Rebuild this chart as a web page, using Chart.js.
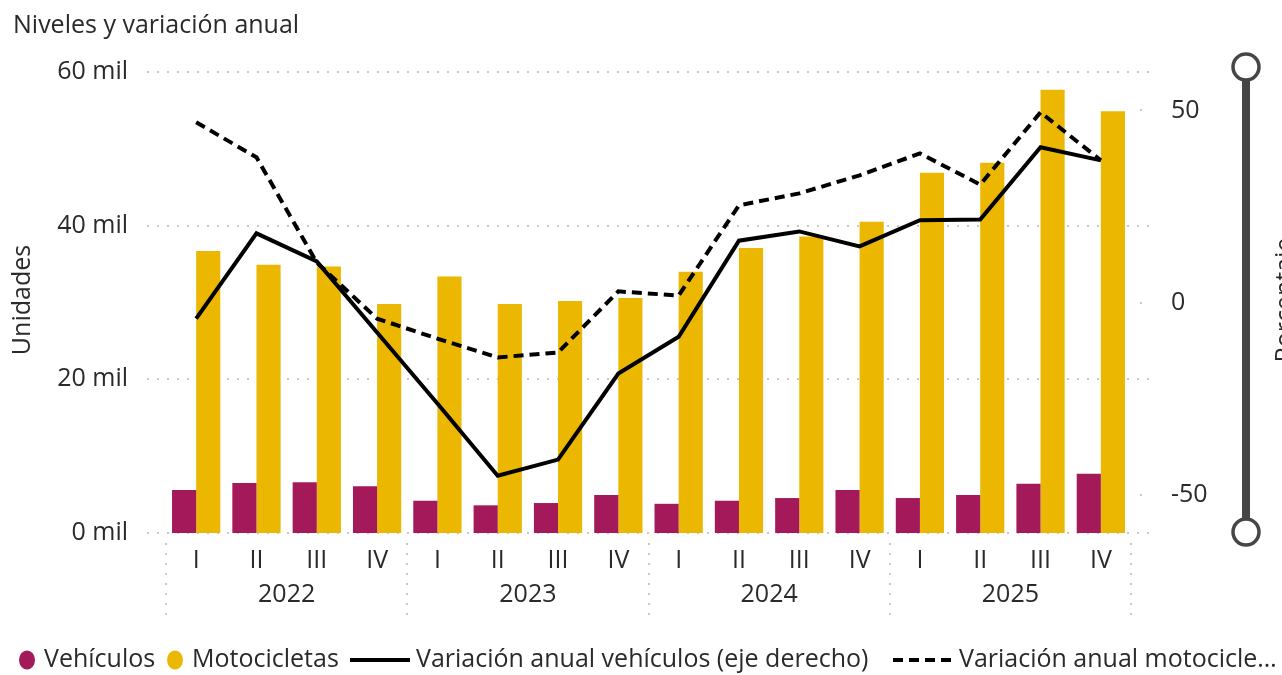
<!DOCTYPE html>
<html lang="es">
<head>
<meta charset="utf-8">
<title>Niveles y variación anual</title>
<script src="https://cdn.jsdelivr.net/npm/chart.js@4.4.1/dist/chart.umd.min.js"></script>
<style>
  html, body { margin: 0; padding: 0; background: #fff; }
  #wrap { width: 1282px; height: 675px; }
</style>
</head>
<body>
<div id="wrap"><canvas id="chart" width="1282" height="675"></canvas></div>
<script>
// data
const quarters = ["I", "II", "III", "IV", "I", "II", "III", "IV", "I", "II", "III", "IV", "I", "II", "III", "IV"];
const years = ["2022", "2023", "2024", "2025"];
const vehiculos = [5600, 6500, 6600, 6100, 4200, 3600, 3900, 4950, 3800, 4200, 4550, 5600, 4550, 4950, 6400, 7700];
const motocicletas = [36700, 34900, 34700, 29800, 33400, 29800, 30200, 30600, 34000, 37100, 38600, 40500, 46900, 48200, 57700, 54900];
const varVehiculos = [-4.2, 18.0, 10.7, -7.8, -26.3, -45.1, -40.9, -18.5, -8.9, 16.1, 18.5, 14.6, 21.4, 21.6, 40.4, 37.0];
const varMotos = [46.9, 37.8, 10.4, -4.2, -9.4, -14.3, -13.0, 2.9, 1.8, 25.3, 28.4, 33.1, 38.8, 30.7, 49.5, 37.0];
const leftTicks = [0, 20000, 40000, 60000];
const rightTicks = [-50, 0, 50];

const FONT = "'Open Sans', sans-serif";
const SIZE = 25;
const TEXT = "#2b2a29";
const GRID = "#c8c8c8";
const PURPLE = "#a4195a";
const YELLOW = "#ebb700";
const LINE_W = 4;
const DASH = [10, 6];

function seg(ctx, x0, y0, x1, y1) {
  ctx.beginPath();
  ctx.moveTo(x0, y0);
  ctx.lineTo(x1, y1);
  ctx.stroke();
}

// extra bits Chart.js doesn't do on its own: title, year groups, legend, slider
const extras = {
  id: "extras",
  beforeDatasetsDraw(chart) {
    const { ctx, chartArea: a, scales } = chart;
    ctx.save();
    ctx.strokeStyle = GRID;
    ctx.lineWidth = 2;
    ctx.setLineDash([2, 8]);
    leftTicks.forEach(v => {
      const py = Math.round(scales.y.getPixelForValue(v));
      seg(ctx, a.left - 19, py, a.right + 19, py);
    });
    rightTicks.forEach(v => {
      const py = Math.round(scales.y2.getPixelForValue(v));
      seg(ctx, a.right + 9, py, a.right + 19, py);
    });
    ctx.restore();
  },
  afterDraw(chart) {
    const { ctx, scales } = chart;
    const x = scales.x;
    const step = x.getPixelForValue(1) - x.getPixelForValue(0);
    ctx.save();

    // title
    ctx.fillStyle = TEXT;
    ctx.font = SIZE + "px " + FONT;
    ctx.textAlign = "left";
    ctx.textBaseline = "alphabetic";
    ctx.fillText("Niveles y variación anual", 13, 33);

    // axis titles
    ctx.save();
    ctx.translate(23, 300);
    ctx.rotate(-Math.PI / 2);
    ctx.textAlign = "center";
    ctx.textBaseline = "middle";
    ctx.fillText("Unidades", 0, 0);
    ctx.restore();
    ctx.save();
    ctx.translate(1273, 300);
    ctx.rotate(-Math.PI / 2);
    ctx.textAlign = "center";
    ctx.textBaseline = "top";
    ctx.fillText("Porcentaje", 0, 0);
    ctx.restore();

    // year groups
    ctx.strokeStyle = GRID;
    ctx.lineWidth = 2;
    ctx.setLineDash([2, 8]);
    for (let i = 0; i <= years.length; i++) {
      const px = Math.round(x.getPixelForValue(i * 4) - step / 2);
      seg(ctx, px, 543, px, 615);
    }
    ctx.setLineDash([]);
    ctx.textAlign = "center";
    ctx.textBaseline = "middle";
    years.forEach((yr, i) => {
      const x0 = x.getPixelForValue(i * 4) - step / 2;
      const x1 = x.getPixelForValue(i * 4 + 3) + step / 2;
      ctx.fillText(yr, (x0 + x1) / 2, 595);
    });

    // legend
    const ly = 660;
    ctx.textAlign = "left";
    ctx.textBaseline = "middle";
    const items = [
      { kind: "dot", color: PURPLE, at: 19, label: "Vehículos" },
      { kind: "dot", color: YELLOW, at: 167, label: "Motocicletas" },
      { kind: "line", dash: [], at: 350, label: "Variación anual vehículos (eje derecho)" },
      { kind: "line", dash: DASH, at: 893, label: "Variación anual motocicle…" }
    ];
    items.forEach(it => {
      let lx = it.at;
      if (it.kind === "dot") {
        ctx.fillStyle = it.color;
        ctx.beginPath();
        ctx.ellipse(lx + 8, ly, 8, 9.5, 0, 0, Math.PI * 2);
        ctx.fill();
        lx += 25;
      } else {
        ctx.strokeStyle = "#000";
        ctx.lineWidth = LINE_W;
        ctx.setLineDash(it.dash);
        seg(ctx, lx, ly, lx + 60, ly);
        ctx.setLineDash([]);
        lx += 66;
      }
      ctx.fillStyle = TEXT;
      ctx.fillText(it.label, lx, ly);
    });

    // zoom slider on the right
    ctx.strokeStyle = "#484644";
    ctx.lineWidth = 8;
    seg(ctx, 1246, 67, 1246, 532);
    ctx.lineWidth = 3.5;
    ctx.fillStyle = "#fff";
    [67, 532].forEach(cy => {
      ctx.beginPath();
      ctx.arc(1246, cy, 13, 0, Math.PI * 2);
      ctx.fill();
      ctx.stroke();
    });
    ctx.restore();
  }
};

const ctx = document.getElementById("chart").getContext("2d");

new Chart(ctx, {
  type: "bar",
  data: {
    labels: quarters,
    datasets: [
      {
        type: "line",
        label: "Variación anual vehículos (eje derecho)",
        data: varVehiculos,
        yAxisID: "y2",
        borderColor: "#000",
        borderWidth: LINE_W,
        pointRadius: 0,
        tension: 0,
        fill: false,
        order: 0
      },
      {
        type: "line",
        label: "Variación anual motocicletas (eje derecho)",
        data: varMotos,
        yAxisID: "y2",
        borderColor: "#000",
        borderWidth: LINE_W,
        borderDash: DASH,
        pointRadius: 0,
        tension: 0,
        fill: false,
        order: 0
      },
      {
        label: "Vehículos",
        data: vehiculos,
        yAxisID: "y",
        backgroundColor: PURPLE,
        barPercentage: 1,
        categoryPercentage: 0.8,
        order: 1
      },
      {
        label: "Motocicletas",
        data: motocicletas,
        yAxisID: "y",
        backgroundColor: YELLOW,
        barPercentage: 1,
        categoryPercentage: 0.8,
        order: 1
      }
    ]
  },
  options: {
    responsive: false,
    animation: false,
    layout: { padding: { top: 72, left: 0, right: 0, bottom: 0 } },
    plugins: {
      legend: { display: false },
      tooltip: { enabled: false },
      title: { display: false }
    },
    scales: {
      x: {
        grid: { display: false },
        border: { display: false },
        ticks: { color: TEXT, font: { family: FONT, size: SIZE }, padding: 5, maxRotation: 0, autoSkip: false },
        afterFit: s => { s.height = 142; }
      },
      y: {
        position: "left",
        min: 0,
        max: 60000,
        grid: { display: false },
        border: { display: false },
        afterBuildTicks: s => { s.ticks = leftTicks.map(v => ({ value: v })); },
        ticks: {
          color: TEXT,
          font: { family: FONT, size: SIZE },
          padding: 30,
          callback: v => (v / 1000) + " mil"
        },
        afterFit: s => { s.width = 166; }
      },
      y2: {
        position: "right",
        min: -60,
        max: 60,
        grid: { display: false },
        border: { display: false },
        afterBuildTicks: s => { s.ticks = rightTicks.map(v => ({ value: v })); },
        ticks: { color: TEXT, font: { family: FONT, size: SIZE }, padding: 32 },
        afterFit: s => { s.width = 151; }
      }
    }
  },
  plugins: [extras]
});
</script>
</body>
</html>
